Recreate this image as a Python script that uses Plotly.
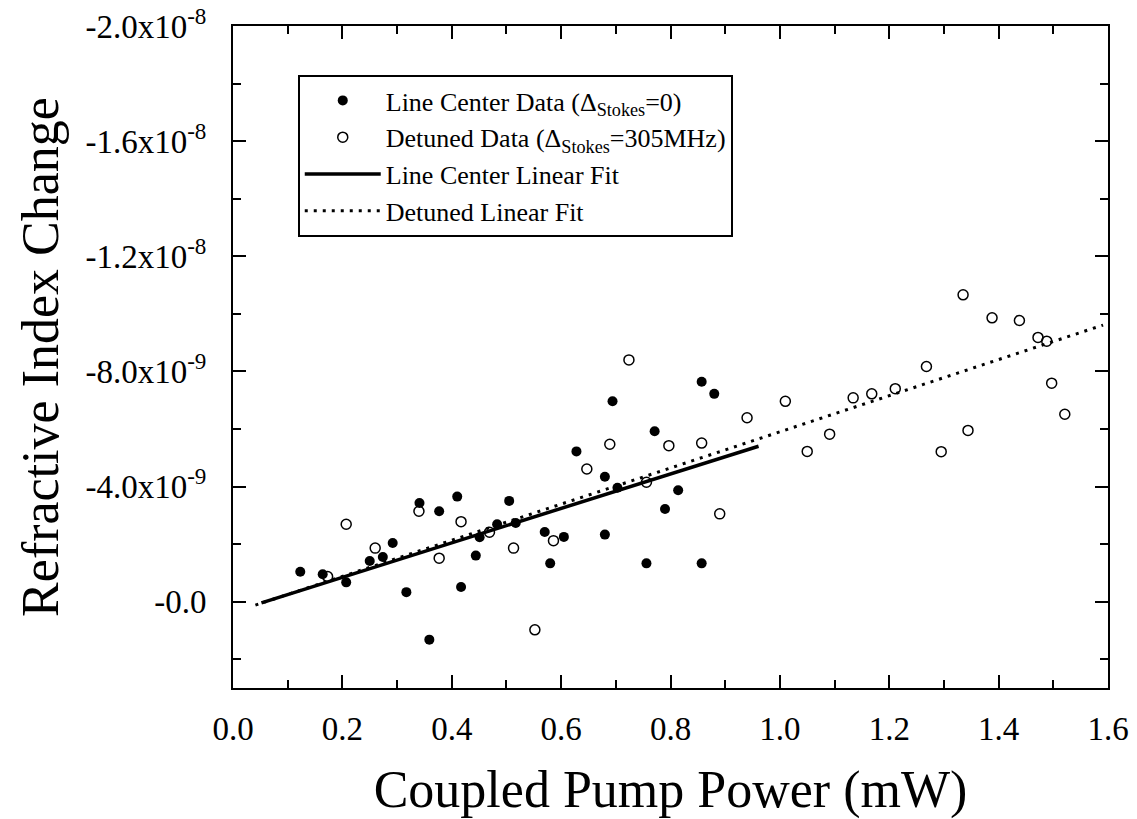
import plotly.graph_objects as go

# ---- data ----
# Line center data (filled circles): coupled pump power (mW), refractive index change
center_x = [0.123, 0.164, 0.207, 0.250, 0.274, 0.292, 0.317, 0.341, 0.359, 0.377,
            0.410, 0.417, 0.444, 0.451, 0.483, 0.505, 0.517, 0.570, 0.580, 0.605,
            0.628, 0.680, 0.680, 0.694, 0.703, 0.756, 0.771, 0.790, 0.814, 0.857,
            0.857, 0.880]
center_y = [-1.04e-9, -0.95e-9, -0.67e-9, -1.41e-9, -1.55e-9, -2.04e-9, -0.33e-9, -3.43e-9, 1.32e-9, -3.14e-9,
            -3.65e-9, -0.51e-9, -1.60e-9, -2.24e-9, -2.69e-9, -3.50e-9, -2.73e-9, -2.42e-9, -1.33e-9, -2.25e-9,
            -5.22e-9, -4.34e-9, -2.33e-9, -6.96e-9, -3.96e-9, -1.33e-9, -5.92e-9, -3.22e-9, -3.87e-9, -1.33e-9,
            -7.64e-9, -7.22e-9]

# Detuned data (open circles)
detuned_x = [0.173, 0.207, 0.260, 0.340, 0.377, 0.417, 0.469, 0.513, 0.552, 0.586,
             0.647, 0.689, 0.724, 0.756, 0.797, 0.857, 0.890, 0.940, 1.010, 1.050,
             1.091, 1.134, 1.168, 1.211, 1.268, 1.295, 1.335, 1.344, 1.388, 1.438,
             1.472, 1.488, 1.497, 1.521]
detuned_y = [-0.87e-9, -2.69e-9, -1.86e-9, -3.14e-9, -1.51e-9, -2.78e-9, -2.41e-9, -1.86e-9, 0.98e-9, -2.12e-9,
             -4.61e-9, -5.47e-9, -8.40e-9, -4.15e-9, -5.42e-9, -5.51e-9, -3.05e-9, -6.39e-9, -6.96e-9, -5.22e-9,
             -5.82e-9, -7.08e-9, -7.22e-9, -7.40e-9, -8.17e-9, -5.21e-9, -10.66e-9, -5.95e-9, -9.86e-9, -9.77e-9,
             -9.18e-9, -9.05e-9, -7.59e-9, -6.51e-9]

# Linear fits (end points)
center_fit_x = [0.052, 0.961]
center_fit_y = [0.04e-9, -5.40e-9]
detuned_fit_x = [0.041, 1.591]
detuned_fit_y = [0.12e-9, -9.61e-9]

# Axis ticks
x_ticks = [0.0, 0.2, 0.4, 0.6, 0.8, 1.0, 1.2, 1.4, 1.6]
y_tickvals = [-2.0e-8, -1.6e-8, -1.2e-8, -8.0e-9, -4.0e-9, 0.0]
y_ticktext = ["-2.0x10<sup>-8</sup>", "-1.6x10<sup>-8</sup>", "-1.2x10<sup>-8</sup>",
              "-8.0x10<sup>-9</sup>", "-4.0x10<sup>-9</sup>", "-0.0"]

FONT = "Liberation Serif, Times New Roman, serif"

fig = go.Figure()
fig.add_trace(go.Scatter(
    x=center_x, y=center_y, mode="markers",
    name="Line Center Data (\u0394<sub>Stokes</sub>=0)",
    marker=dict(symbol="circle", size=10, color="black"),
))
fig.add_trace(go.Scatter(
    x=detuned_x, y=detuned_y, mode="markers",
    name="Detuned Data (\u0394<sub>Stokes</sub>=305MHz)",
    marker=dict(symbol="circle-open", size=10, color="black", line=dict(width=1.5, color="black")),
))
fig.add_trace(go.Scatter(
    x=center_fit_x, y=center_fit_y, mode="lines",
    name="Line Center Linear Fit",
    line=dict(color="black", width=3.5),
))
fig.add_trace(go.Scatter(
    x=detuned_fit_x, y=detuned_fit_y, mode="lines",
    name="Detuned Linear Fit",
    line=dict(color="black", width=3, dash="3px,6px"),
))

fig.update_layout(
    width=1137, height=819,
    margin=dict(l=233, r=29, t=26, b=131),
    paper_bgcolor="white", plot_bgcolor="white",
    font=dict(family=FONT, color="black", size=33),
    showlegend=True,
    legend=dict(
        x=0.074, y=0.926, xanchor="left", yanchor="top",
        bgcolor="white", bordercolor="black", borderwidth=2,
        font=dict(family=FONT, size=26, color="black"),
        itemwidth=76, traceorder="normal",
    ),
)
fig.update_xaxes(
    range=[0, 1.6], tickvals=x_ticks, tickformat=".1f", automargin=False,
    showline=True, linecolor="black", linewidth=2, mirror="ticks",
    ticks="inside", ticklen=13, tickwidth=2, tickcolor="black",
    minor=dict(dtick=0.1, tick0=0, ticks="inside", ticklen=8, tickwidth=2, tickcolor="black"),
    showgrid=False, zeroline=False, ticklabelstandoff=10, ticklabeloverflow="allow",
    tickfont=dict(family=FONT, size=33, color="black"),
    title=dict(text="Coupled Pump Power (mW)", font=dict(family=FONT, size=52, color="black"), standoff=30),
)
fig.update_yaxes(
    range=[3.0e-9, -2.0e-8], tickvals=y_tickvals, ticktext=y_ticktext, automargin=False,
    showline=True, linecolor="black", linewidth=2, mirror="ticks",
    ticks="inside", ticklen=13, tickwidth=2, tickcolor="black",
    minor=dict(dtick=2e-9, tick0=0, ticks="inside", ticklen=8, tickwidth=2, tickcolor="black"),
    showgrid=False, zeroline=False, ticklabelstandoff=18, ticklabeloverflow="allow",
    tickfont=dict(family=FONT, size=33, color="black"),
    title=dict(text="Refractive Index Change", font=dict(family=FONT, size=52, color="black"), standoff=10),
)

# remove the browser's default 8px body margin so the figure fills the window exactly
fig.write_html("out.html", config={"displayModeBar": False},
               post_script="document.body.style.margin='0';")
